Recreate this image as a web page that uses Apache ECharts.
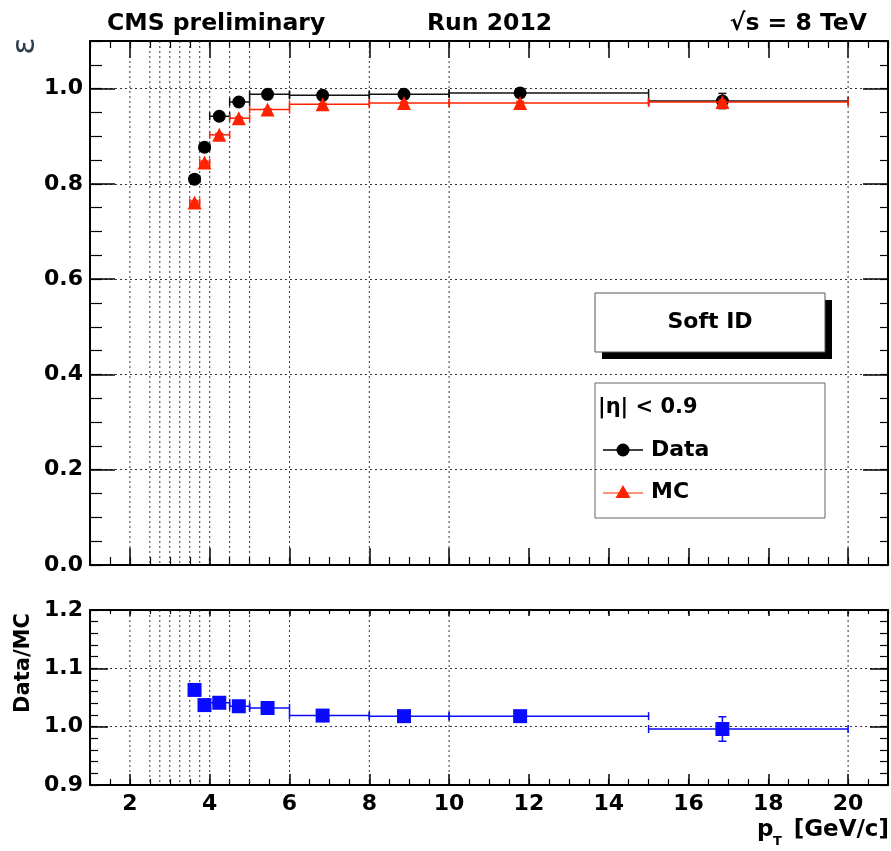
<!DOCTYPE html>
<html>
<head>
<meta charset="utf-8">
<script src="https://cdn.jsdelivr.net/npm/echarts@6/dist/echarts.min.js"></script>
<style>
  html, body { margin: 0; padding: 0; background: #fff; }
  #main { width: 891px; height: 851px; }
</style>
</head>
<body>
<div id="main"></div>
<script>
// pT bins [GeV/c]
var binLo   = [3.5, 3.75, 4.0, 4.5, 5.0, 6.0, 8.0, 10.0, 15.0];
var binHi   = [3.75, 4.0, 4.5, 5.0, 6.0, 8.0, 10.0, 15.0, 20.0];
var binMean = [3.62, 3.87, 4.24, 4.73, 5.45, 6.83, 8.87, 11.78, 16.85];

// efficiency, data and MC
var dataEff = [0.810, 0.877, 0.942, 0.972, 0.988, 0.986, 0.988, 0.991, 0.974];
var dataErr = [0.004, 0.003, 0.003, 0.003, 0.002, 0.003, 0.004, 0.006, 0.016];
var mcEff   = [0.761, 0.845, 0.903, 0.938, 0.956, 0.967, 0.970, 0.970, 0.972];
var mcErr   = [0.004, 0.003, 0.003, 0.002, 0.002, 0.002, 0.002, 0.003, 0.004];

// data / MC
var ratio    = [1.063, 1.037, 1.041, 1.035, 1.032, 1.019, 1.018, 1.018, 0.996];
var ratioErr = [0.006, 0.005, 0.004, 0.004, 0.003, 0.003, 0.004, 0.006, 0.021];

var gridEdges = [2, 2.5, 2.75, 3, 3.25, 3.5, 3.75, 4, 4.5, 5, 6, 8, 10, 20];
var xTicks = [2, 4, 6, 8, 10, 12, 14, 16, 18, 20];

var FONT = '"DejaVu Sans", "Liberation Sans", sans-serif';
var RED = '#ff2200';
var BLUE = '#0a0aff';

var chart = echarts.init(document.getElementById('main'));

// grids 0/1 share the top panel rect, 2/3 the ratio panel rect.
// even grids carry the frame, labels and long ticks; odd ones only the short ticks.
var topRect = { left: 90, top: 41, width: 798, height: 524 };
var lowRect = { left: 90, top: 610, width: 798, height: 175 };

function xMajor(grid, pos, len, labels) {
  return {
    type: 'value', gridIndex: grid, position: pos, min: 1, max: 21,
    axisLine: { show: true, onZero: false, lineStyle: { color: '#000', width: 2 } },
    axisTick: { show: true, inside: true, length: len, customValues: xTicks,
                lineStyle: { color: '#000', width: 1.5 } },
    axisLabel: { show: labels, customValues: xTicks, margin: 8, color: '#000',
                 fontFamily: FONT, fontWeight: 'bold', fontSize: 22 },
    splitLine: { show: false }
  };
}
function xMinor(grid, pos, len) {
  return {
    type: 'value', gridIndex: grid, position: pos, min: 1, max: 21, interval: 0.5,
    axisLine: { show: false, onZero: false },
    axisTick: { show: true, inside: true, length: len, lineStyle: { color: '#000', width: 1.2 } },
    axisLabel: { show: false },
    splitLine: { show: false }
  };
}
function yMajor(grid, pos, min, max, step, len, labels) {
  return {
    type: 'value', gridIndex: grid, position: pos, min: min, max: max, interval: step,
    axisLine: { show: true, onZero: false, lineStyle: { color: '#000', width: 2 } },
    axisTick: { show: true, inside: true, length: len, lineStyle: { color: '#000', width: 1.5 } },
    axisLabel: { show: labels, showMaxLabel: max === 1.2, margin: 7, color: '#000',
                 fontFamily: FONT, fontWeight: 'bold', fontSize: 22,
                 formatter: function (v) { return v.toFixed(1); } },
    splitLine: { show: labels, lineStyle: { color: '#333', width: 1, type: [2, 3] } }
  };
}
function yMinor(grid, pos, min, max, step, len) {
  return {
    type: 'value', gridIndex: grid, position: pos, min: min, max: max, interval: step,
    axisLine: { show: false, onZero: false },
    axisTick: { show: true, inside: true, length: len, lineStyle: { color: '#000', width: 1.2 } },
    axisLabel: { show: false },
    splitLine: { show: false }
  };
}

var xAxes = [
  xMajor(0, 'bottom', 17, false),  // 0
  xMajor(0, 'top', 17, false),     // 1
  xMinor(1, 'bottom', 8),          // 2
  xMinor(1, 'top', 7),             // 3
  xMajor(2, 'bottom', 11, true),   // 4
  xMajor(2, 'top', 6, false),      // 5
  xMinor(3, 'bottom', 6),          // 6
  xMinor(3, 'top', 4)              // 7
];
var yAxes = [
  yMajor(0, 'left', 0, 1.1, 0.2, 25, true),      // 0
  yMajor(0, 'right', 0, 1.1, 0.2, 25, false),    // 1
  yMinor(1, 'left', 0, 1.1, 0.05, 12),           // 2
  yMinor(1, 'right', 0, 1.1, 0.05, 8),           // 3
  yMajor(2, 'left', 0.9, 1.2, 0.1, 18, true),    // 4
  yMajor(2, 'right', 0.9, 1.2, 0.1, 18, false),  // 5
  yMinor(3, 'left', 0.9, 1.2, 0.02, 8),          // 6
  yMinor(3, 'right', 0.9, 1.2, 0.02, 8)          // 7
];

function edgeSeries(xi, yi, yBase) {
  return {
    type: 'custom', xAxisIndex: xi, yAxisIndex: yi, z: 1, silent: true,
    encode: { x: 0, y: 1 },
    data: gridEdges.map(function (v) { return [v, yBase]; }),
    renderItem: function (params, api) {
      var cs = params.coordSys;
      var x = api.coord([api.value(0), yBase])[0];
      return { type: 'line', shape: { x1: x, y1: cs.y, x2: x, y2: cs.y + cs.height },
               style: { stroke: '#333', lineWidth: 1, lineDash: [2, 3] } };
    }
  };
}

function errSeries(xi, yi, vals, errs, color, z) {
  return {
    type: 'custom', xAxisIndex: xi, yAxisIndex: yi, z: z, silent: true,
    encode: { x: [0, 1], y: 3 },
    data: vals.map(function (v, i) { return [binLo[i], binHi[i], binMean[i], v, errs[i]]; }),
    renderItem: function (params, api) {
      var y = api.value(3), e = api.value(4), xm = api.value(2);
      var a = api.coord([api.value(0), y]), b = api.coord([api.value(1), y]);
      var t = api.coord([xm, y + e]), d = api.coord([xm, y - e]);
      var st = { stroke: color, lineWidth: 1.5 };
      var c = 4;
      return { type: 'group', children: [
        { type: 'line', shape: { x1: a[0], y1: a[1], x2: b[0], y2: b[1] }, style: st },
        { type: 'line', shape: { x1: a[0], y1: a[1] - c, x2: a[0], y2: a[1] + c }, style: st },
        { type: 'line', shape: { x1: b[0], y1: b[1] - c, x2: b[0], y2: b[1] + c }, style: st },
        { type: 'line', shape: { x1: t[0], y1: t[1], x2: d[0], y2: d[1] }, style: st },
        { type: 'line', shape: { x1: t[0] - c, y1: t[1], x2: t[0] + c, y2: t[1] }, style: st },
        { type: 'line', shape: { x1: d[0] - c, y1: d[1], x2: d[0] + c, y2: d[1] }, style: st }
      ] };
    }
  };
}

function markers(xi, yi, vals, symbol, size, color, z) {
  return {
    type: 'scatter', xAxisIndex: xi, yAxisIndex: yi, z: z, silent: true,
    symbol: symbol, symbolSize: size,
    itemStyle: { color: color, opacity: 1 },
    data: vals.map(function (v, i) { return [binMean[i], v]; })
  };
}

var series = [
  edgeSeries(0, 0, 0),
  edgeSeries(4, 4, 0.9),
  errSeries(0, 0, dataEff, dataErr, '#111', 3),
  markers(0, 0, dataEff, 'circle', 13, '#000', 4),
  errSeries(0, 0, mcEff, mcErr, RED, 5),
  markers(0, 0, mcEff, 'triangle', 14, RED, 6),
  errSeries(4, 4, ratio, ratioErr, BLUE, 3),
  markers(4, 4, ratio, 'rect', 14, BLUE, 4)
];

var bold = function (size) { return 'bold ' + size + 'px ' + FONT; };

var graphic = [
  // header
  { type: 'text', x: 107, y: 24, style: { text: 'CMS preliminary', font: bold(23.5), fill: '#000', verticalAlign: 'middle' } },
  { type: 'text', x: 427, y: 24, style: { text: 'Run 2012', font: bold(23.5), fill: '#000', verticalAlign: 'middle' } },
  { type: 'text', x: 867, y: 24, style: { text: '\u221As = 8 TeV', font: bold(23.5), fill: '#000', align: 'right', verticalAlign: 'middle' } },
  // axis titles
  { type: 'text', x: 26, y: 46, rotation: Math.PI / 2, style: { text: '\u03b5', font: '32px ' + FONT, fill: '#2d3f4f', align: 'center', verticalAlign: 'middle' } },
  { type: 'text', x: 24, y: 663, rotation: Math.PI / 2, style: { text: 'Data/MC', font: bold(21), fill: '#000', align: 'center', verticalAlign: 'middle' } },
  { type: 'text', x: 757, y: 830, style: { text: 'p', font: bold(23), fill: '#000', verticalAlign: 'middle' } },
  { type: 'text', x: 773, y: 842, style: { text: 'T', font: bold(13), fill: '#000', verticalAlign: 'middle' } },
  { type: 'text', x: 889, y: 830, style: { text: '[GeV/c]', font: bold(23), fill: '#000', align: 'right', verticalAlign: 'middle' } },
  // "Soft ID" box with shadow
  { type: 'rect', shape: { x: 602, y: 300, width: 230, height: 59 }, style: { fill: '#000' } },
  { type: 'rect', shape: { x: 595, y: 293, width: 230, height: 59 }, style: { fill: '#fff', stroke: '#555', lineWidth: 1 } },
  { type: 'text', x: 710, y: 322, style: { text: 'Soft ID', font: bold(22), fill: '#000', align: 'center', verticalAlign: 'middle' } },
  // legend box
  { type: 'rect', shape: { x: 595, y: 383, width: 230, height: 135 }, style: { fill: '#fff', stroke: '#666', lineWidth: 1 } },
  { type: 'text', x: 598, y: 408, style: { text: '|\u03b7| < 0.9', font: bold(21), fill: '#000', verticalAlign: 'middle' } },
  { type: 'line', shape: { x1: 603, y1: 450, x2: 643, y2: 450 }, style: { stroke: '#000', lineWidth: 1.5 } },
  { type: 'circle', shape: { cx: 623, cy: 450, r: 6.5 }, style: { fill: '#000' } },
  { type: 'text', x: 651, y: 450, style: { text: 'Data', font: bold(22), fill: '#000', verticalAlign: 'middle' } },
  { type: 'line', shape: { x1: 603, y1: 493, x2: 643, y2: 493 }, style: { stroke: RED, lineWidth: 1 } },
  { type: 'polygon', shape: { points: [[623, 485], [630.5, 498], [615.5, 498]] }, style: { fill: RED } },
  { type: 'text', x: 651, y: 492, style: { text: 'MC', font: bold(22), fill: '#000', verticalAlign: 'middle' } }
];

chart.setOption({
  animation: false,
  backgroundColor: '#fff',
  grid: [topRect, topRect, lowRect, lowRect],
  xAxis: xAxes,
  yAxis: yAxes,
  series: series,
  graphic: graphic
});
</script>
</body>
</html>
